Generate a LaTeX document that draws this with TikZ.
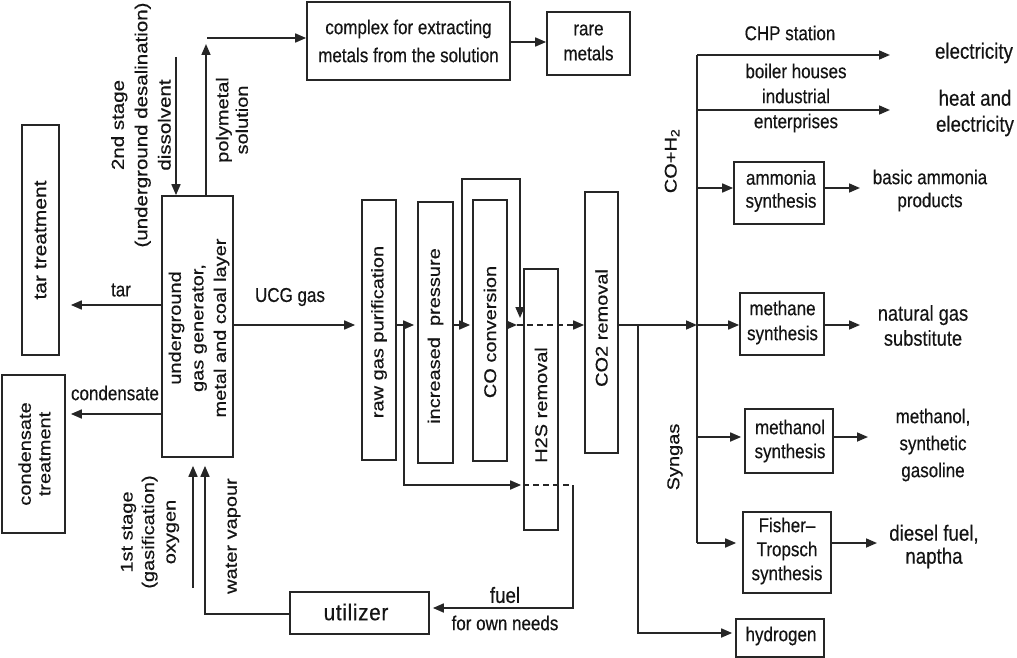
\documentclass[tikz,border=0pt]{standalone}
\usepackage{fontspec}
\setmainfont{Liberation Sans}[FakeStretch=0.85,FakeBold=0.4]
\newfontfamily\rotfont{Liberation Sans}[FakeBold=0.4]
\newfontfamily\utilfont{Liberation Sans}[FakeStretch=0.9,LetterSpace=3,FakeBold=0.4]
\usetikzlibrary{arrows.meta}
\definecolor{lncol}{HTML}{262626}
\begin{document}
\begin{tikzpicture}[x=1pt,y=-1pt,
  every node/.append style={text=black!92},
  txt/.style={font=\fontsize{20}{25}\selectfont, inner sep=0pt, align=center},
  big/.style={font=\fontsize{22}{26}\selectfont, inner sep=0pt, align=center},
  rot/.style={font=\rotfont\fontsize{20}{25}\selectfont, inner sep=0pt, align=center, xscale=0.85, rotate=90},
  box/.style={draw=lncol, line width=1.7pt, inner sep=0pt},
  wire/.style={draw=lncol, line width=1.7pt},
  arr/.style={draw=lncol, line width=1.7pt, -{Triangle[length=11pt,width=9pt]}},
  dsh/.style={dash pattern=on 6pt off 4pt},
]
\useasboundingbox (0,0) rectangle (1017,658);

% ---------- boxes ----------
\node[box, minimum width=37pt, minimum height=230pt] (tar) at (40.5,240) {};
\node[rot, font=\rotfont\fontsize{21}{25}\selectfont] at (tar) {tar treatment};

\node[box, minimum width=63pt, minimum height=158pt] (cond) at (33.5,454) {};
\node[rot, font=\rotfont\fontsize{20}{23}\selectfont] at (34.5,454) {condensate\\treatment};

\node[box, minimum width=71pt, minimum height=261pt] (gen) at (197.5,326.5) {};
\node[rot, font=\rotfont\fontsize{20}{26.5}\selectfont] at (199,328) {underground\\gas generator,\\metal and coal layer};

\node[box, minimum width=203pt, minimum height=78pt] (cmplx) at (408.5,41) {};
\node[txt, font=\fontsize{20}{28}\selectfont] at (cmplx) {complex for extracting\\metals from the solution};

\node[box, minimum width=83pt, minimum height=63pt] (rare) at (588.5,43.5) {};
\node[txt] at (588.5,42.5) {rare\\metals};

\node[box, minimum width=34pt, minimum height=260pt] (raw) at (379,330) {};
\node[rot] at (379,332) {raw gas purification};
\node[box, minimum width=35pt, minimum height=261pt] (inc) at (435.5,332.5) {};
\node[rot] at (435.5,336) {increased\ \ pressure};
\node[box, minimum width=34pt, minimum height=261pt] (coc) at (490,330.5) {};
\node[rot] at (490,332) {CO conversion};
\node[box, minimum width=34pt, minimum height=261pt] (h2s) at (541,399.5) {};
\node[rot] at (541,405) {H2S removal};
\node[box, minimum width=33pt, minimum height=261pt] (co2) at (601.5,322.5) {};
\node[rot] at (601.5,328) {CO2 removal};

\node[box, minimum width=139pt, minimum height=42pt] (util) at (359.5,613) {};
\node[font=\utilfont\fontsize{23}{28}\selectfont, inner sep=0pt] at (356,612) {utilizer};

\node[box, minimum width=90pt, minimum height=62pt] (amm) at (779,193) {};
\node[txt, font=\fontsize{20}{23}\selectfont] at (781,191) {ammonia\\synthesis};
\node[box, minimum width=84pt, minimum height=62pt] (meth) at (782,324) {};
\node[txt] at (782.5,322.5) {methane\\synthesis};
\node[box, minimum width=88pt, minimum height=64pt] (mol) at (789,441) {};
\node[txt, font=\fontsize{20}{24}\selectfont] at (790,441) {methanol\\synthesis};
\node[box, minimum width=88pt, minimum height=81pt] (ft) at (787,552.5) {};
\node[txt, font=\fontsize{20}{24}\selectfont] at (787,551) {Fisher--\\Tropsch\\synthesis};
\node[box, minimum width=88pt, minimum height=38pt] (hyd) at (780,638) {};
\node[txt] at (781,636) {hydrogen};

% ---------- output labels ----------
\node[txt] (lchp) at (790,33) {CHP station};
\node[big] (lel) at (974,53) {electricity};
\node[txt] (lboil) at (796,98) {boiler houses\\industrial\\enterprises};
\node[big] (lheat) at (975,113) {heat and\\electricity};
\node[txt, font=\fontsize{20}{23}\selectfont] (lamm) at (930,190.5) {basic ammonia\\products};
\node[txt, font=\fontsize{21.5}{25}\selectfont] (lng) at (923,325.5) {natural gas\\substitute};
\node[txt, font=\fontsize{20}{27}\selectfont] (lmol) at (933,445) {methanol,\\synthetic\\gasoline};
\node[txt, font=\fontsize{22}{23}\selectfont] (ldsl) at (934,546.5) {diesel fuel,\\naptha};

% ---------- connector labels ----------
\node[txt] (ltar) at (121,290) {tar};
\node[txt] (lcond) at (115,393) {condensate};
\node[txt] (lucg) at (290,297) {UCG gas};
\node[rot, font=\rotfont\fontsize{20.5}{27.5}\selectfont] (l2nd) at (141,125) {2nd stage\\(underground desalination)\\dissolvent};
\node[rot, font=\rotfont\fontsize{20}{23}\selectfont] (lpoly) at (232,120) {polymetal\\solution};
\node[rot, font=\rotfont\fontsize{20}{25.3}\selectfont] (l1st) at (150,532) {1st stage\\(gasification)\\oxygen};
\node[rot] (lwv) at (233,536) {water vapour};
\node[big] (lfuel) at (505,595) {fuel};
\node[txt] (lown) at (505,623) {for own needs};
\node[rot] (lcoh) at (672,161) {CO+H\textsubscript{2}};
\node[rot] (lsyn) at (675,457) {Syngas};

% ---------- coordinates ----------
\coordinate (dissTop) at (176,57);
\coordinate (polyTop) at (206,44);
\coordinate (polyStart) at (207,38);
\coordinate (c2r) at (510,42);
\coordinate (tarY) at (0,305);
\coordinate (condY) at (0,414);
\coordinate (mainY) at (0,325);
\coordinate (cocOut) at (517,325);
\coordinate (byA) at (462,325);
\coordinate (byTop) at (520,179);
\coordinate (byEnd) at (520,318);
\coordinate (fuA) at (404,325);
\coordinate (fuY) at (0,485);
\coordinate (fuC) at (573,485);
\coordinate (utY) at (0,608);
\coordinate (wvX) at (205,0);
\coordinate (wvY) at (0,614);
\coordinate (oxB) at (193,588);
\coordinate (dist) at (697,325);
\coordinate (dTop) at (697,55);
\coordinate (dBot) at (697,543);
\coordinate (chpEnd) at (890,55);
\coordinate (boilA) at (697,110);
\coordinate (boilEnd) at (890,110);
\coordinate (ammA) at (697,188);
\coordinate (molA) at (697,437);
\coordinate (ammOut) at (860,188);
\coordinate (methOut) at (860,325);
\coordinate (molOut) at (868,437);
\coordinate (ftOut) at (877,543);
\coordinate (hA) at (638,325);
\coordinate (hY) at (0,633);

% ---------- connectors ----------
\draw[arr] (dissTop) -- (dissTop |- gen.north);
\draw[arr] (polyTop |- gen.north) -- (polyTop);
\draw[arr] (polyStart) -- (polyStart -| cmplx.west);
\draw[arr] (cmplx.east |- c2r) -- (rare.west |- c2r);

\draw[arr, shorten >=11pt] (gen.west |- tarY) -- (tar.east |- tarY);
\draw[arr, shorten >=5pt] (gen.west |- condY) -- (cond.east |- condY);
\draw[arr, shorten >=6pt] (gen.east |- mainY) -- (raw.west |- mainY);
\draw[arr, shorten >=3pt] (raw.east |- mainY) -- (inc.west |- mainY);
\draw[arr, shorten >=2pt] (inc.east |- mainY) -- (coc.west |- mainY);
\draw[arr] (coc.east |- mainY) -- (cocOut);
\draw[arr, dsh] (cocOut) -- (co2.west |- mainY);

\draw[arr] (byA) |- (byTop) -- (byEnd);

\draw[arr, shorten >=2pt] (fuA) |- (h2s.west |- fuY);
\draw[wire, dsh] (h2s.west |- fuY) -- (fuC);
\draw[arr, shorten >=3pt] (fuC) |- (util.east |- utY);

\draw[arr, shorten >=8pt] (util.west |- wvY) -| (wvX |- gen.south);
\draw[arr, shorten >=8pt] (oxB) -- (oxB |- gen.south);

\draw[arr] (co2.east |- mainY) -- (dist);
\draw[wire] (dTop) -- (dBot);
\draw[arr] (dTop) -- (chpEnd);
\draw[arr] (boilA) -- (boilEnd);
\draw[arr] (ammA) -- (amm.west |- ammA);
\draw[arr] (dist) -- (meth.west |- dist);
\draw[arr, shorten >=3pt] (molA) -- (mol.west |- molA);
\draw[arr, shorten >=6pt] (dBot) -- (ft.west |- dBot);

\draw[arr] (amm.east |- ammA) -- (ammOut);
\draw[arr] (meth.east |- dist) -- (methOut);
\draw[arr] (mol.east |- molA) -- (molOut);
\draw[arr] (ft.east |- dBot) -- (ftOut);

\draw[arr, shorten >=3pt] (hA) |- (hyd.west |- hY);
\end{tikzpicture}
\end{document}
